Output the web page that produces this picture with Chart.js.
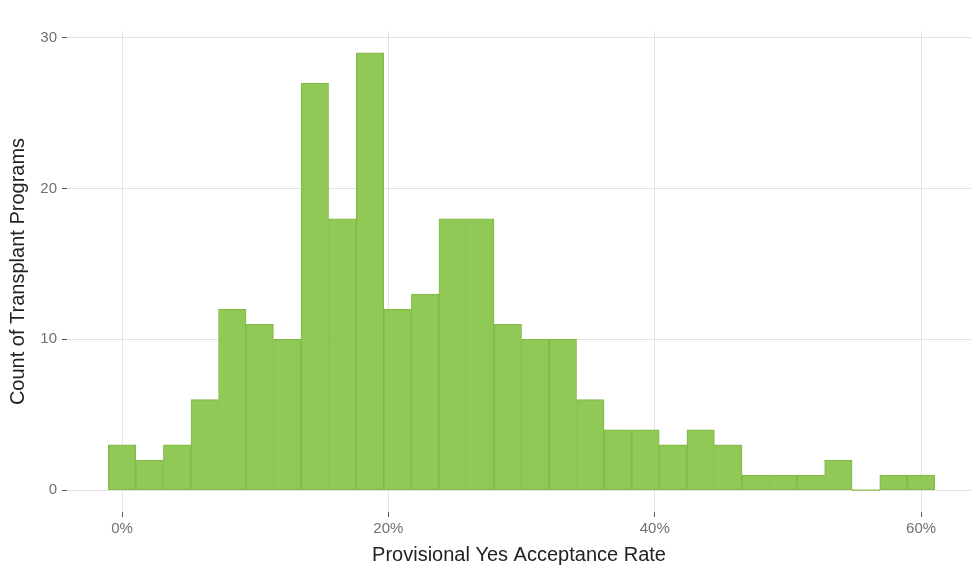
<!DOCTYPE html>
<html>
<head>
<meta charset="utf-8">
<script src="https://cdn.jsdelivr.net/npm/chart.js@4.4.0/dist/chart.umd.min.js"></script>
<style>
  html, body { margin: 0; padding: 0; background: #ffffff; }
  #wrap { width: 971px; height: 571px; }
</style>
</head>
<body>
<div id="wrap"><canvas id="histChart" width="971" height="571"></canvas></div>
<script>
// bin centres (percent) and counts
const binCenters = [0, 2.07, 4.14, 6.21, 8.28, 10.34, 12.41, 14.48, 16.55, 18.62,
                    20.69, 22.76, 24.83, 26.90, 28.97, 31.03, 33.10, 35.17, 37.24, 39.31,
                    41.38, 43.45, 45.52, 47.59, 49.66, 51.72, 53.79, 55.86, 57.93, 60.00];
const programCounts = [3, 2, 3, 6, 12, 11, 10, 27, 18, 29,
                       12, 13, 18, 18, 11, 10, 10, 6, 4, 4,
                       3, 4, 3, 1, 1, 1, 2, 0, 1, 1];
const xTicks = [0, 20, 40, 60];
const yTicks = [0, 10, 20, 30];

const font = "'Liberation Sans', Arial, Helvetica, sans-serif";

document.addEventListener('DOMContentLoaded', function() {
    drawHistogram();
});

function drawHistogram() {
    const ctx = document.getElementById('histChart').getContext('2d');
    new Chart(ctx, {
        type: 'bar',
        data: {
            datasets: [{
                data: binCenters.map((c, i) => ({ x: c, y: programCounts[i] })),
                backgroundColor: 'rgba(140, 199, 80, 0.97)',
                borderColor: '#82b948',
                borderWidth: 1,
                borderSkipped: false,
                minBarLength: 1,
                barPercentage: 1.0,
                categoryPercentage: 1.0
            }]
        },
        options: {
            responsive: false,
            animation: false,
            layout: { padding: { top: 31, right: 0, bottom: 0, left: 0 } },
            plugins: {
                legend: { display: false },
                tooltip: { enabled: false }
            },
            scales: {
                x: {
                    type: 'linear',
                    min: -4.13,
                    max: 63.75,
                    offset: false,
                    afterBuildTicks: s => { s.ticks = xTicks.map(v => ({ value: v })); },
                    afterFit: s => { s.height = 59; },
                    grid: {
                        offset: false,
                        color: '#e2e2e2',
                        lineWidth: 1,
                        tickColor: '#555555',
                        tickLength: 5
                    },
                    border: { display: false },
                    ticks: {
                        callback: v => v + '%',
                        color: '#707070',
                        font: { family: font, size: 15 },
                        padding: 3,
                        maxRotation: 0
                    },
                    title: {
                        display: true,
                        text: 'Provisional Yes Acceptance Rate',
                        color: '#222222',
                        font: { family: font, size: 20 },
                        padding: { top: 0, bottom: 4 }
                    }
                },
                y: {
                    min: -1.45,
                    max: 30.45,
                    afterBuildTicks: s => { s.ticks = yTicks.map(v => ({ value: v })); },
                    afterFit: s => { s.width = 67; },
                    grid: {
                        color: '#e2e2e2',
                        lineWidth: 1,
                        tickColor: '#555555',
                        tickLength: 5
                    },
                    border: { display: false },
                    ticks: {
                        color: '#707070',
                        font: { family: font, size: 15 },
                        padding: 5
                    },
                    title: {
                        display: true,
                        text: 'Count of Transplant Programs',
                        color: '#222222',
                        font: { family: font, size: 20 },
                        padding: { top: 6, bottom: 0 }
                    }
                }
            }
        }
    });
}
</script>
</body>
</html>
